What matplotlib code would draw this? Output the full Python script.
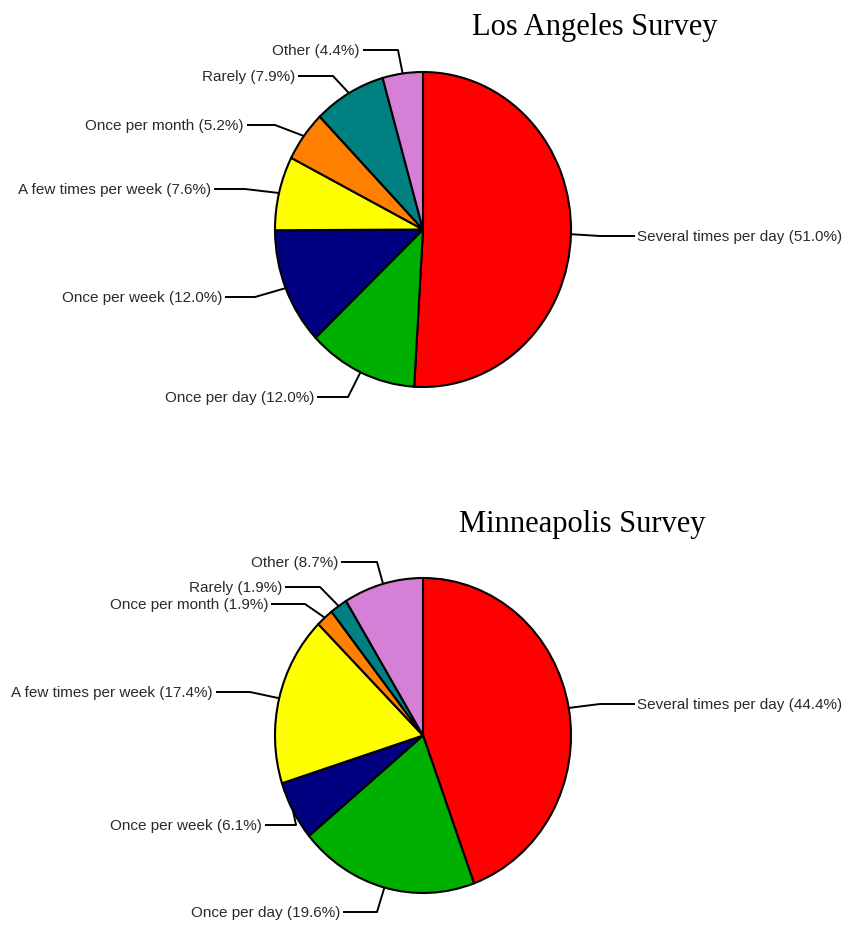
import numpy as np
import matplotlib.pyplot as plt

# --- Data ---
categories = ["Several times per day", "Once per day", "Once per week",
              "A few times per week", "Once per month", "Rarely", "Other"]
la_values = [51.0, 12.0, 12.0, 7.6, 5.2, 7.9, 4.4]
mn_values = [44.4, 19.6, 6.1, 17.4, 1.9, 1.9, 8.7]
colors = ["#ff0000", "#00b000", "#000080", "#ffff00", "#ff8000", "#008080", "#d580d6"]

# --- Layout (pixels) ---
W, H = 846, 928
RX, RY = 148, 157.5
# (text x, text y, elbow x) for every label
la_layout = [(637, 237, 600), (314, 398, 348), (222, 298, 255), (211, 190, 245),
             (244, 126, 275), (295, 77, 333), (360, 51, 398)]
mn_layout = [(637, 705, 600), (340, 913, 377), (262, 826, 296), (213, 693, 250),
             (268, 605, 305), (282, 588, 320), (338, 563, 377)]

fig = plt.figure(figsize=(W / 100, H / 100), dpi=100)
fig.patch.set_facecolor("white")


def draw_pie(values, layout, cx, cy, title, title_x, title_y):
    ax = fig.add_axes([0, 0, 1, 1])
    ax.patch.set_alpha(0)
    wedges, _ = ax.pie(values, colors=colors, startangle=90, counterclock=False,
                       radius=1, wedgeprops=dict(edgecolor="black", linewidth=1.5))
    ax.set_aspect("auto")
    ax.set_xlim(-cx / RX, (W - cx) / RX)
    ax.set_ylim((cy - H) / RY, cy / RY)
    ax.axis("off")

    def to_data(px, py):
        return (px - cx) / RX, (cy - py) / RY

    for w, cat, val, (tx, ty, ex) in zip(wedges, categories, values, layout):
        ang = np.deg2rad((w.theta1 + w.theta2) / 2)
        edge = (np.cos(ang), np.sin(ang))
        right = tx > cx
        line_end = tx - 2 if right else tx + 3
        xs_px = [line_end, ex]
        ys_px = [ty, ty]
        pts = [to_data(x, y) for x, y in zip(xs_px, ys_px)] + [edge]
        ax.plot([p[0] for p in pts], [p[1] for p in pts], color="black", lw=1.4,
                solid_capstyle="butt")
        tdx, tdy = to_data(tx, ty)
        ax.text(tdx, tdy, f"{cat} ({val:.1f}%)", ha="left" if right else "right",
                va="center", fontsize=11, family="Liberation Sans", color="#2a2a2a")

    fig.text(title_x / W, 1 - title_y / H, title, ha="center", va="center",
             fontsize=22, family="Liberation Serif", color="black")


draw_pie(la_values, la_layout, 423, 230.5, "Los Angeles Survey", 595, 28)
draw_pie(mn_values, mn_layout, 423, 736.5, "Minneapolis Survey", 582, 525)

plt.savefig("out.png", dpi=100)
